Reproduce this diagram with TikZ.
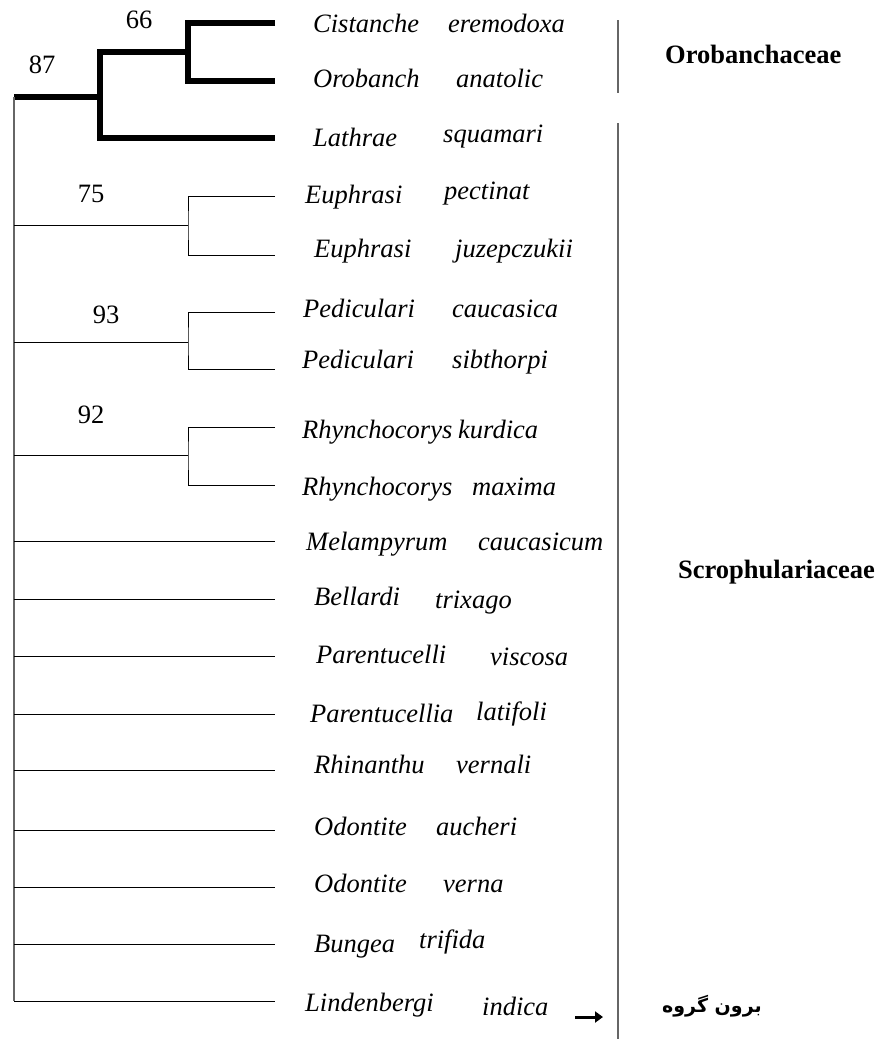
\documentclass[tikz,border=0pt]{standalone}
\usepackage{fontspec}
\setmainfont{Liberation Serif}
\newfontfamily\arabicfont[Script=Arabic]{DejaVu Sans}
\TeXXeTstate=1
\usetikzlibrary{arrows.meta}
\begin{document}
\begin{tikzpicture}[x=1pt,y=-1pt,
  thickbr/.style={line width=6pt, line join=miter, line cap=butt},
  thinbr/.style={line width=1pt, draw=black},
  trunk/.style={line width=1.1pt, draw=black!60},
  sepline/.style={line width=1.2pt, draw=black!60},
  sp/.style={anchor=base west, inner sep=0pt, font=\fontsize{26.5}{30}\selectfont\itshape},
  boot/.style={anchor=base, inner sep=0pt, font=\fontsize{26.5}{30}\selectfont},
  fam/.style={anchor=base west, inner sep=0pt, font=\fontsize{26.5}{30}\selectfont\bfseries},
  outg/.style={anchor=base west, inner sep=0pt, font=\fontsize{19}{22}\selectfont\arabicfont\bfseries},
]
\useasboundingbox (0,0) rectangle (879,1039);

% tip coordinates
\coordinate (t1) at (275,23);
\coordinate (t2) at (275,81);
\coordinate (t3) at (275,138);
\coordinate (t4) at (275,196);
\coordinate (t5) at (275,255);
\coordinate (t6) at (275,312);
\coordinate (t7) at (275,369);
\coordinate (t8) at (275,427);
\coordinate (t9) at (275,485);
\coordinate (t10) at (275,541);
\coordinate (t11) at (275,599);
\coordinate (t12) at (275,656);
\coordinate (t13) at (275,714);
\coordinate (t14) at (275,770);
\coordinate (t15) at (275,830);
\coordinate (t16) at (275,887);
\coordinate (t17) at (275,944);
\coordinate (t18) at (275,1001);

% internal nodes
\coordinate (n66) at (188,52);
\coordinate (n87) at (100,97);
\coordinate (root) at (14,97);
\coordinate (n75) at (188,225);
\coordinate (n93) at (188,342);
\coordinate (n92) at (188,455);
\coordinate (b75) at (14,225);
\coordinate (b93) at (14,342);
\coordinate (b92) at (14,455);
\coordinate (b10) at (14,541);
\coordinate (b11) at (14,599);
\coordinate (b12) at (14,656);
\coordinate (b13) at (14,714);
\coordinate (b14) at (14,770);
\coordinate (b15) at (14,830);
\coordinate (b16) at (14,887);
\coordinate (b17) at (14,944);
\coordinate (b18) at (14,1001);

% thick Orobanchaceae clade
\draw[thickbr] (t1) -| (n66) |- (t2);
\draw[thickbr] (n66) -| (n87) |- (t3);
\draw[thickbr] (root) -- (n87);

% trunk
\draw[trunk] (root) -- (b18);

% thin clades
\draw[thinbr] (t4) -| (n75) |- (t5);
\draw[thinbr] (b75) -- (n75);
\draw[thinbr] (t6) -| (n93) |- (t7);
\draw[thinbr] (b93) -- (n93);
\draw[thinbr] (t8) -| (n92) |- (t9);
\draw[thinbr] (b92) -- (n92);
\foreach \i in {10,...,18} { \draw[thinbr] (b\i) -- (t\i); }

% bootstrap values
\node[boot] (v66) at (139,28) {66};
\node[boot] (v87) at (42,73) {87};
\node[boot] (v75) at (91,202) {75};
\node[boot] (v93) at (106,323) {93};
\node[boot] (v92) at (91,423) {92};

% species labels
\node[sp] (g1) at (313,32) {Cistanche};   \node[sp] (s1) at (448,32) {eremodoxa};
\node[sp] (g2) at (313,87) {Orobanch};    \node[sp] (s2) at (456,87) {anatolic};
\node[sp] (g3) at (313,146) {Lathrae};    \node[sp] (s3) at (443,142) {squamari};
\node[sp] (g4) at (305,203) {Euphrasi};   \node[sp] (s4) at (444,199) {pectinat};
\node[sp] (g5) at (314,257) {Euphrasi};   \node[sp] (s5) at (455,257) {juzepczukii};
\node[sp] (g6) at (303,317) {Pediculari}; \node[sp] (s6) at (452,317) {caucasica};
\node[sp] (g7) at (302,368) {Pediculari}; \node[sp] (s7) at (452,368) {sibthorpi};
\node[sp] (g8) at (302,438) {Rhynchocorys}; \node[sp] (s8) at (458,438) {kurdica};
\node[sp] (g9) at (302,495) {Rhynchocorys}; \node[sp] (s9) at (472,495) {maxima};
\node[sp] (g10) at (306,550) {Melampyrum}; \node[sp] (s10) at (478,550) {caucasicum};
\node[sp] (g11) at (314,605) {Bellardi};  \node[sp] (s11) at (435,608) {trixago};
\node[sp] (g12) at (316,663) {Parentucelli}; \node[sp] (s12) at (490,665) {viscosa};
\node[sp] (g13) at (310,722) {Parentucellia}; \node[sp] (s13) at (476,720) {latifoli};
\node[sp] (g14) at (314,773) {Rhinanthu}; \node[sp] (s14) at (456,773) {vernali};
\node[sp] (g15) at (314,835) {Odontite};  \node[sp] (s15) at (436,835) {aucheri};
\node[sp] (g16) at (314,892) {Odontite};  \node[sp] (s16) at (443,892) {verna};
\node[sp] (g17) at (314,952) {Bungea};    \node[sp] (s17) at (419,948) {trifida};
\node[sp] (g18) at (305,1011) {Lindenbergi}; \node[sp] (s18) at (482,1015) {indica};

% family separators and labels
\coordinate (l1a) at (618,20);
\coordinate (l1b) at (618,93);
\coordinate (l2a) at (618,123);
\coordinate (l2b) at (618,1039);
\draw[sepline] (l1a) -- (l1b);
\draw[sepline] (l2a) -- (l2b);
\node[fam] (orob) at (665,63) {Orobanchaceae};
\node[fam] (scro) at (678,578) {Scrophulariaceae};
\node[outg] (outgroup) at (662,1012) {\beginR برون گروه\endR};

% outgroup arrow
\coordinate (arS) at (575,1017);
\coordinate (arE) at (603,1017);
\draw[line width=3pt, -{Triangle[length=8pt,width=11pt]}] (arS) -- (arE);
\end{tikzpicture}
\end{document}
